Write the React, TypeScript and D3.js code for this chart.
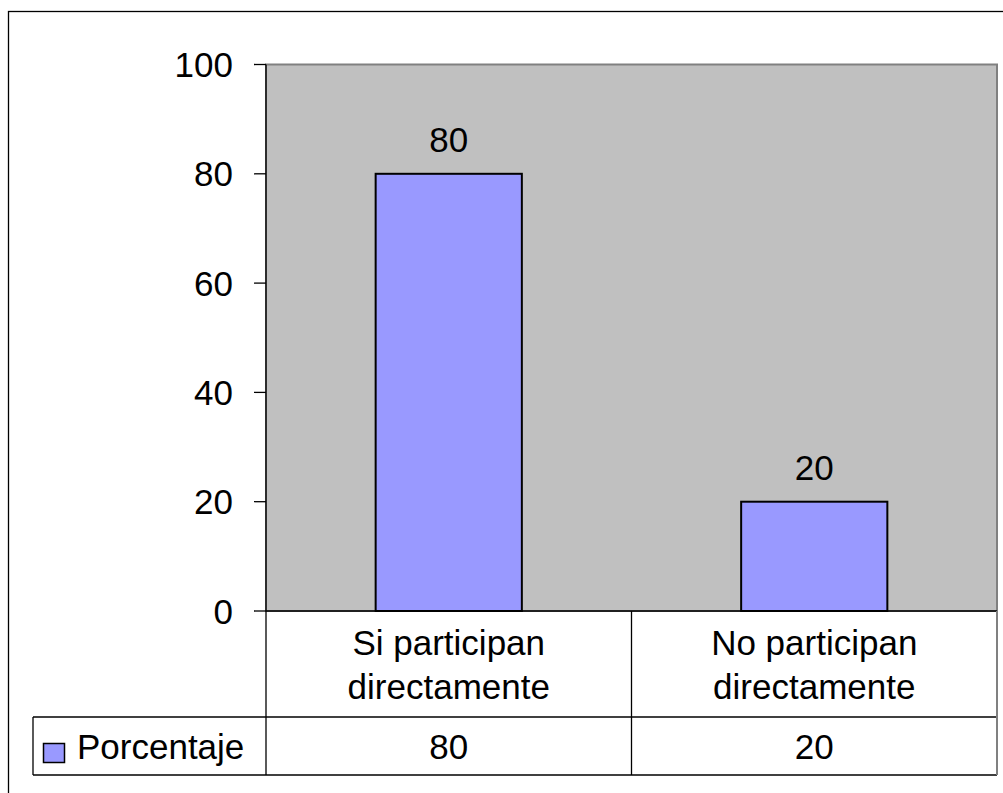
import React from "react";
import * as d3 from "d3";

const categories: string[][] = [
  ["Si participan", "directamente"],
  ["No participan", "directamente"],
];
const seriesName = "Porcentaje";
const values: number[] = [80, 20];
const yTicks: number[] = [0, 20, 40, 60, 80, 100];

const W = 1003;
const H = 793;
const plot = { left: 266, top: 64.5, right: 997, bottom: 611 };
const tableRow1Bottom = 717;
const tableRow2Bottom = 775;
const legendLeft = 33;
const FONT = "'Liberation Sans', Arial, sans-serif";
const FS = 35;

export default function App() {
  const x = d3
    .scaleBand<number>()
    .domain(values.map((_, i) => i))
    .range([plot.left, plot.right])
    .paddingInner(0)
    .paddingOuter(0);
  const y = d3.scaleLinear().domain([0, 100]).range([plot.bottom, plot.top]);
  const bw = x.bandwidth();
  const barW = bw * 0.4;

  return (
    <svg
      width={W}
      height={H}
      style={{ position: "absolute", left: 0, top: 0, background: "#fff" }}
      fontFamily={FONT}
    >
      {/* outer chart border, clipped by viewport */}
      <rect x={8.5} y={11.5} width={1100} height={900} fill="#fff" stroke="#000" strokeWidth={1.3} />

      {/* plot area */}
      <rect
        x={plot.left}
        y={plot.top}
        width={plot.right - plot.left}
        height={plot.bottom - plot.top}
        fill="#C0C0C0"
        stroke="#808080"
        strokeWidth={2}
      />

      {/* bars */}
      {values.map((v, i) => {
        const cx = (x(i) as number) + bw / 2;
        return (
          <g key={i}>
            <rect
              x={cx - barW / 2}
              y={y(v)}
              width={barW}
              height={y(0) - y(v)}
              fill="#9999FF"
              stroke="#000"
              strokeWidth={2}
            />
            <text x={cx} y={y(v) - 22} textAnchor="middle" fontSize={FS} fill="#000">
              {v}
            </text>
          </g>
        );
      })}

      {/* y axis */}
      <line x1={plot.left} x2={plot.left} y1={plot.top} y2={tableRow2Bottom} stroke="#000" strokeWidth={1.3} />
      {yTicks.map((t) => (
        <g key={t}>
          <line x1={plot.left - 12} x2={plot.left} y1={y(t)} y2={y(t)} stroke="#000" strokeWidth={1.3} />
          <text x={plot.left - 33} y={y(t) + 12.5} textAnchor="end" fontSize={FS} fill="#000">
            {t}
          </text>
        </g>
      ))}

      {/* data table */}
      <line x1={plot.left} x2={plot.right} y1={plot.bottom} y2={plot.bottom} stroke="#000" strokeWidth={1.3} />
      <line x1={legendLeft} x2={plot.right} y1={tableRow1Bottom} y2={tableRow1Bottom} stroke="#000" strokeWidth={1.3} />
      <line x1={legendLeft} x2={plot.right} y1={tableRow2Bottom} y2={tableRow2Bottom} stroke="#000" strokeWidth={1.3} />
      <line x1={legendLeft} x2={legendLeft} y1={tableRow1Bottom} y2={tableRow2Bottom} stroke="#000" strokeWidth={1.3} />
      {values.map((_, i) => (
        <line
          key={i}
          x1={(x(i) as number) + bw}
          x2={(x(i) as number) + bw}
          y1={plot.bottom}
          y2={tableRow2Bottom}
          stroke={i === values.length - 1 ? "#808080" : "#000"}
          strokeWidth={i === values.length - 1 ? 2 : 1.3}
        />
      ))}
      {categories.map((lines, i) => {
        const cx = (x(i) as number) + bw / 2;
        return (
          <text key={i} x={cx} textAnchor="middle" fontSize={FS} fill="#000">
            {lines.map((l, j) => (
              <tspan key={j} x={cx} y={655 + j * 44}>
                {l}
              </tspan>
            ))}
          </text>
        );
      })}
      {values.map((v, i) => (
        <text key={i} x={(x(i) as number) + bw / 2} y={759} textAnchor="middle" fontSize={FS} fill="#000">
          {v}
        </text>
      ))}
      <rect x={43.5} y={743.5} width={21} height={19} fill="#9999FF" stroke="#000" strokeWidth={1.5} />
      <text x={77} y={759} fontSize={FS} fill="#000">
        {seriesName}
      </text>
    </svg>
  );
}
